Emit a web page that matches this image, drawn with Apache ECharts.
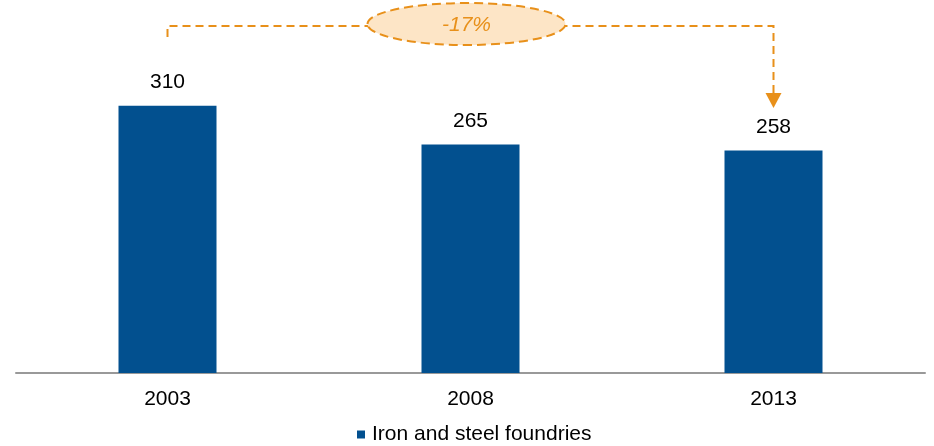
<!DOCTYPE html>
<html><head><meta charset="utf-8">
<script src="https://cdn.jsdelivr.net/npm/echarts@6/dist/echarts.min.js"></script>
<style>html,body{margin:0;padding:0;background:#fff}#c{width:934px;height:446px}</style>
</head><body><div id="c"></div>
<script>
const categories = ['2003', '2008', '2013'];
const values = [310, 265, 258];
const seriesName = 'Iron and steel foundries';
const changeLabel = '-17%';

const FONT = '"Liberation Sans", Arial, sans-serif';
const ORANGE = '#E8901A';
const chart = echarts.init(document.getElementById('c'), null, {renderer: 'canvas'});
chart.setOption({
  animation: false,
  backgroundColor: '#ffffff',
  grid: {left: 16, right: 9, top: 28, bottom: 73},
  legend: {
    data: [seriesName], left: 357, top: 424, padding: 0, icon: 'rect', itemWidth: 8, itemHeight: 8, itemGap: 10,
    textStyle: {fontFamily: FONT, fontSize: 21, color: '#000', padding: [0, 0, 0, 2]}
  },
  xAxis: {
    type: 'category', data: categories,
    axisLine: {lineStyle: {color: '#999999', width: 2}},
    axisTick: {show: false},
    axisLabel: {fontFamily: FONT, fontSize: 21, color: '#000', margin: 16}
  },
  yAxis: {type: 'value', min: 0, max: 400, show: false, splitLine: {show: false}},
  series: [{
    name: seriesName, type: 'bar', data: values, barWidth: 98,
    itemStyle: {color: '#02508F'},
    label: {show: true, position: 'top', distance: 13, fontFamily: FONT, fontSize: 21, color: '#000'}
  }]
});

const p0 = chart.convertToPixel({xAxisIndex: 0}, categories[0]);
const p2 = chart.convertToPixel({xAxisIndex: 0}, categories[categories.length - 1]);
const yTop = 26;
const mid = (p0 + p2) / 2 - 4;
chart.setOption({
  graphic: [
    {type: 'polyline', shape: {points: [[p0, 37], [p0, yTop], [p2, yTop], [p2, 93]]},
     style: {stroke: ORANGE, lineWidth: 2, lineDash: [8, 5], fill: null}, z: 10},
    {type: 'polygon', shape: {points: [[p2 - 8, 93], [p2 + 8, 93], [p2, 108]]},
     style: {fill: ORANGE}, z: 10},
    {type: 'ellipse', shape: {cx: mid, cy: 24, rx: 99, ry: 21},
     style: {fill: '#FDE5C6', stroke: ORANGE, lineWidth: 2, lineDash: [9, 5]}, z: 11},
    {type: 'text', x: mid, y: 25,
     style: {text: changeLabel, fill: ORANGE, font: 'italic 21px ' + FONT, textAlign: 'center', textVerticalAlign: 'middle'}, z: 12}
  ]
});
</script></body></html>
